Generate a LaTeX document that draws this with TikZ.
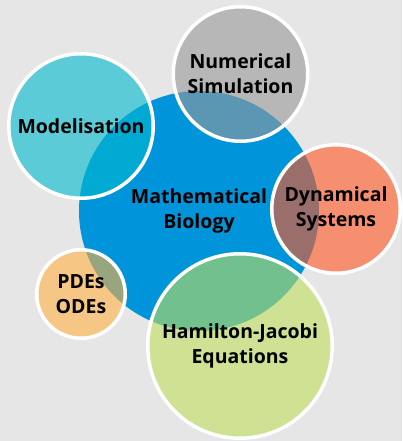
\documentclass[tikz,border=0pt]{standalone}
\usepackage{fontspec}
\setmainfont{Open Sans}
\usepackage{tikz}
\definecolor{bggray}{RGB}{230,230,230}
\definecolor{mathblue}{RGB}{0,149,218}
\definecolor{modcyan}{RGB}{0,185,207}
\definecolor{numgray}{RGB}{152,152,152}
\definecolor{dynred}{RGB}{255,85,33}
\definecolor{pdeorange}{RGB}{255,177,67}
\definecolor{hjgreen}{RGB}{193,222,93}
\tikzset{bubble/.style={circle,inner sep=0pt,align=center,
  font=\fontsize{19.5}{25}\selectfont\bfseries,text=black}}
\tikzset{sub/.style={bubble,draw=white,line width=3.5pt,
  fill opacity=0.6,text opacity=1}}

\begin{document}
\begin{tikzpicture}[x=1pt,y=-1pt]
          \fill[bggray] (0,0) rectangle (402,441);
          \useasboundingbox (0,0) rectangle (402,441);

          \node (bio) at (199,211) [bubble,fill=mathblue,minimum size=240pt] {};

          \node (model) at (81,126) [sub,fill=modcyan,minimum size=144.5pt] {Modelisation};
          \node (num) at (240.5,74) [sub,fill=numgray,minimum size=134.5pt] {Numerical\\Simulation};
          \node (dyn) at (336,209) [sub,fill=dynred,minimum size=128.5pt] {Dynamical\\Systems};
          \node (pde) at (81,294) [sub,fill=pdeorange,minimum size=88.5pt] {PDEs\\ODEs};
          \node (hj) at (240,346) [sub,fill=hjgreen,minimum size=184.5pt] {Hamilton-Jacobi\\Equations};

          \node (biotext) at (bio) [bubble] {Mathematical\\Biology};
        \end{tikzpicture}
\end{document}
